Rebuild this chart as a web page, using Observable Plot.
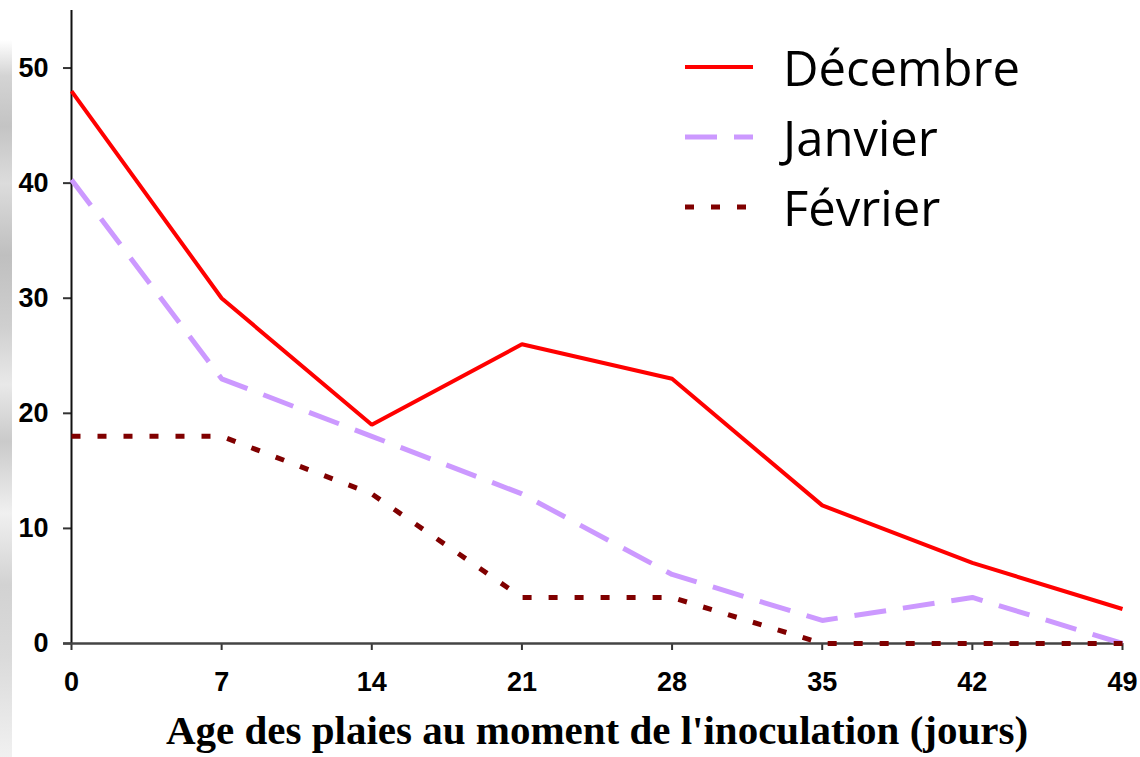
<!DOCTYPE html>
<html>
<head>
<meta charset="utf-8">
<script src="https://cdn.jsdelivr.net/npm/d3@7"></script>
<script src="https://cdn.jsdelivr.net/npm/@observablehq/plot@0.6"></script>
<style>
  html, body { margin: 0; padding: 0; background: #fff; }
  #wrap { position: relative; width: 1140px; height: 757px; overflow: hidden; }
  #strip { position: absolute; left: 0; top: 40px; width: 12px; height: 717px;
    background: linear-gradient(180deg, #fff 0%, #cfcfcf 5%, #bdbdbd 12%, #d8d8d8 20%, #b8b8b8 30%, #cacaca 40%, #e6e6e6 48%, #c4c4c4 56%, #eeeeee 66%, #cdcdcd 76%, #d6d6d6 86%, #efefef 100%); opacity: 0.9; }
  #chart { position: absolute; left: 0; top: 0; }
  #chart g[aria-label="y-axis tick label"], #chart g[aria-label="x-axis tick label"] {
    font-size: 27px !important; font-weight: bold !important; font-family: "Liberation Sans", Arial, sans-serif !important; }
  #legend { position: absolute; left: 683px; top: 32px; font-family: "Open Sans", sans-serif; font-size: 49px; color: #000; }
  .item { display: flex; align-items: center; height: 70px; }
  .item svg { margin-right: 28px; }
</style>
</head>
<body>
<div id="wrap">
  <div id="strip"></div>
  <div id="chart"></div>
  <div id="legend"></div>
</div>
<script>
const ages = [0, 7, 14, 21, 28, 35, 42, 49];
const decembre = [48, 30, 19, 26, 23, 12, 7, 3];
const janvier = [40.3, 23, 18, 13, 6, 2, 4, 0];
const fevrier = [18, 18, 13, 4, 4, 0, 0, 0];
const seriesNames = ["Décembre", "Janvier", "Février"];
const yTicks = [0, 10, 20, 30, 40, 50];
const xLabel = "Age des plaies au moment de l'inoculation (jours)";

const styles = {
  "Décembre": {stroke: "#ff0000", width: 4, dash: null},
  "Janvier": {stroke: "#cc99ff", width: 5, dash: "32,17"},
  "Février": {stroke: "#800000", width: 5, dash: "9,17"}
};

const valuesBy = {"Décembre": decembre, "Janvier": janvier, "Février": fevrier};
const data = seriesNames.map(name => ages.map((a, i) => ({age: a, value: valuesBy[name][i], series: name})));

const lineMarks = seriesNames.map((name, k) => Plot.line(data[k], {
  x: "age", y: "value",
  stroke: styles[name].stroke,
  strokeWidth: styles[name].width,
  strokeDasharray: styles[name].dash,
  strokeLinejoin: "miter",
  strokeLinecap: "butt"
}));

const tickFont = {fontSize: 27, fontWeight: "bold", fontFamily: "Liberation Sans, Arial, sans-serif", fill: "#000"};

const chart = Plot.plot({
  width: 1140,
  height: 757,
  marginLeft: 71,
  marginRight: 18,
  marginTop: 10,
  marginBottom: 114,
  style: {background: "transparent", overflow: "visible", fontSize: "27px"},
  x: {domain: [0, 49]},
  y: {domain: [0, 55]},
  marks: [
    Plot.axisY({ticks: yTicks, tickSize: 8, tickPadding: 15, tickFormat: d => d, label: null, stroke: "#333", strokeWidth: 2, ...tickFont}),
    Plot.axisX({ticks: ages, tickSize: 7, tickPadding: 21, tickFormat: d => d, label: null, stroke: "#333", strokeWidth: 2, ...tickFont}),
    Plot.ruleX([0], {stroke: "#111", strokeWidth: 2, y1: 0, y2: 55}),
    Plot.ruleY([0], {stroke: "#444", strokeWidth: 2.5, x1: -0.37, x2: 49}),
    ...lineMarks,
    Plot.text([xLabel], {frameAnchor: "bottom", dy: 100, text: d => d,
      fontSize: 41, fontWeight: "bold", fontFamily: "Liberation Serif, Times New Roman, serif", fill: "#000", lineAnchor: "bottom"})
  ]
});
document.getElementById("chart").appendChild(chart);

const legend = document.getElementById("legend");
for (const name of seriesNames) {
  const s = styles[name];
  const item = document.createElement("div");
  item.className = "item";
  const ns = "http://www.w3.org/2000/svg";
  const svg = document.createElementNS(ns, "svg");
  svg.setAttribute("width", 72);
  svg.setAttribute("height", 10);
  const ln = document.createElementNS(ns, "line");
  ln.setAttribute("x1", 2); ln.setAttribute("x2", 70);
  ln.setAttribute("y1", 5); ln.setAttribute("y2", 5);
  ln.setAttribute("stroke", s.stroke);
  ln.setAttribute("stroke-width", s.width);
  if (s.dash) ln.setAttribute("stroke-dasharray", s.dash);
  svg.appendChild(ln);
  const span = document.createElement("span");
  span.textContent = name;
  item.appendChild(svg);
  item.appendChild(span);
  legend.appendChild(item);
}
</script>
</body>
</html>
